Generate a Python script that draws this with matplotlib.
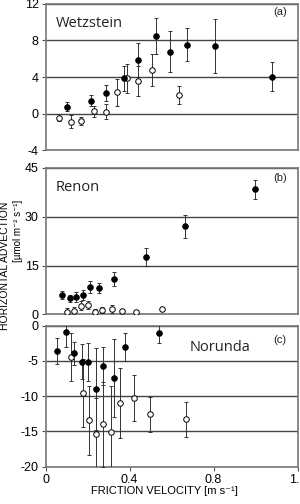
import matplotlib
matplotlib.use("Agg")
import matplotlib.pyplot as plt

plt.rcParams['font.family'] = ['Liberation Sans', 'DejaVu Sans']
plt.rcParams['axes.unicode_minus'] = False

# Panel (a) Wetzstein
a_fx = [0.10, 0.214, 0.287, 0.374, 0.44, 0.524, 0.593, 0.673, 0.806, 1.079]
a_fy = [0.77, 1.39, 2.23, 3.86, 5.85, 8.46, 6.76, 7.52, 7.34, 4.04]
a_fe = [0.5, 0.6, 0.85, 1.35, 1.8, 2.0, 2.2, 1.8, 2.95, 1.6]
a_ox = [0.065, 0.12, 0.167, 0.232, 0.287, 0.341, 0.386, 0.44, 0.505, 0.636]
a_oy = [-0.43, -0.86, -0.82, 0.27, 0.23, 2.34, 3.86, 3.57, 4.76, 2.04]
a_oe = [0.35, 0.7, 0.45, 0.6, 0.8, 1.45, 1.6, 1.6, 1.75, 0.95]

# Panel (b) Renon
b_fx = [0.076, 0.114, 0.146, 0.178, 0.211, 0.255, 0.324, 0.476, 0.662, 0.997]
b_fy = [6.0, 4.97, 5.47, 6.08, 8.35, 8.14, 10.9, 17.75, 27.1, 38.4]
b_fe = [1.3, 1.1, 1.5, 1.5, 1.8, 1.5, 2.2, 2.8, 3.5, 2.9]
b_ox = [0.10, 0.136, 0.167, 0.203, 0.236, 0.27, 0.314, 0.363, 0.43, 0.552]
b_oy = [0.87, 1.17, 2.7, 2.9, 0.87, 1.38, 1.69, 1.17, 0.87, 1.69]
b_oe = [1.2, 1.2, 1.3, 1.2, 0.8, 0.9, 1.2, 0.6, 0.5, 0.5]

# Panel (c) Norunda
c_fx = [0.055, 0.097, 0.135, 0.173, 0.203, 0.24, 0.274, 0.327, 0.378, 0.538]
c_fy = [-3.61, -0.97, -3.94, -5.12, -5.12, -9.04, -5.69, -7.39, -3.09, -1.1]
c_fe = [1.9, 2.0, 1.6, 2.5, 2.7, 5.8, 2.7, 5.5, 2.0, 1.3]
c_ox = [0.119, 0.179, 0.205, 0.24, 0.271, 0.31, 0.354, 0.42, 0.497, 0.667]
c_oy = [-4.5, -9.6, -13.4, -15.3, -14.0, -15.1, -11.0, -10.27, -12.6, -13.3]
c_oe = [3.4, 4.8, 4.9, 5.0, 6.0, 6.5, 5.0, 3.2, 2.5, 2.5]

sites = ["Wetzstein", "Renon", "Norunda"]
tags = ["(a)", "(b)", "(c)"]
ylims = [(-4, 12), (0, 45), (-20, 0)]
yticks = [[-4, 0, 4, 8, 12], [0, 15, 30, 45], [-20, -15, -10, -5, 0]]
xticks = [0, 0.4, 0.8, 1.2]
xticklabels = ["0", "0.4", "0.8", "1.2"]

panels = [
    (a_fx, a_fy, a_fe, a_ox, a_oy, a_oe),
    (b_fx, b_fy, b_fe, b_ox, b_oy, b_oe),
    (c_fx, c_fy, c_fe, c_ox, c_oy, c_oe),
]

fig = plt.figure(figsize=(3.0, 5.04), dpi=100)
boxes = [
    [0.152, 0.7014, 0.840, 0.2916],
    [0.152, 0.376, 0.840, 0.2907],
    [0.152, 0.074, 0.840, 0.280],
]
name_pos = [(0.04, 0.867), (0.04, 0.87), (0.57, 0.848)]
tag_pos = [(0.93, 0.939), (0.93, 0.93), (0.93, 0.897)]

for i, (box, data) in enumerate(zip(boxes, panels)):
    ax = fig.add_axes(box)
    fx, fy, fe, ox, oy, oe = data
    ax.errorbar(ox, oy, yerr=oe, fmt='o', mfc='white', mec='black', mew=0.7,
                ms=4, ecolor='#333333', elinewidth=0.7, capsize=1.5, capthick=0.7, zorder=3)
    ax.errorbar(fx, fy, yerr=fe, fmt='o', mfc='black', mec='black', mew=0.7,
                ms=4, ecolor='#333333', elinewidth=0.7, capsize=1.5, capthick=0.7, zorder=4)
    ax.set_xlim(0, 1.2)
    ax.set_ylim(*ylims[i])
    ax.set_yticks(yticks[i])
    ax.yaxis.grid(True, color='#444444', linewidth=1.0)
    ax.set_axisbelow(True)
    for s in ax.spines.values():
        s.set_color('#777777')
        s.set_linewidth(1.2)
    ax.tick_params(axis='y', direction='out', length=3, width=0.8, color='#555555',
                   labelsize=9, pad=2)
    if i == 2:
        ax.set_xticks(xticks)
        ax.set_xticklabels(xticklabels)
        ax.tick_params(axis='x', direction='out', length=3, width=0.8, color='#555555',
                       labelsize=9, pad=2)
        ax.set_xlabel("FRICTION VELOCITY [m s⁻¹]", fontsize=8)
        ax.xaxis.set_label_coords(0.473, -0.14)
    else:
        ax.set_xticks([])
    ax.text(name_pos[i][0], name_pos[i][1], sites[i], transform=ax.transAxes,
            fontsize=10.5, family='Open Sans', color='#222222', va='center')
    ax.text(tag_pos[i][0], tag_pos[i][1], tags[i], transform=ax.transAxes, fontsize=8,
            ha='center', va='center', color='#222222')

fig.text(0.018, 1 - 265.5 / 504, "HORIZONTAL ADVECTION", rotation=90,
         ha='center', va='center', fontsize=7.5)
fig.text(0.06, 1 - 231 / 504, "[µmol m⁻² s⁻¹]", rotation=90,
         ha='center', va='center', fontsize=7)

fig.savefig("out.png", dpi=100)
